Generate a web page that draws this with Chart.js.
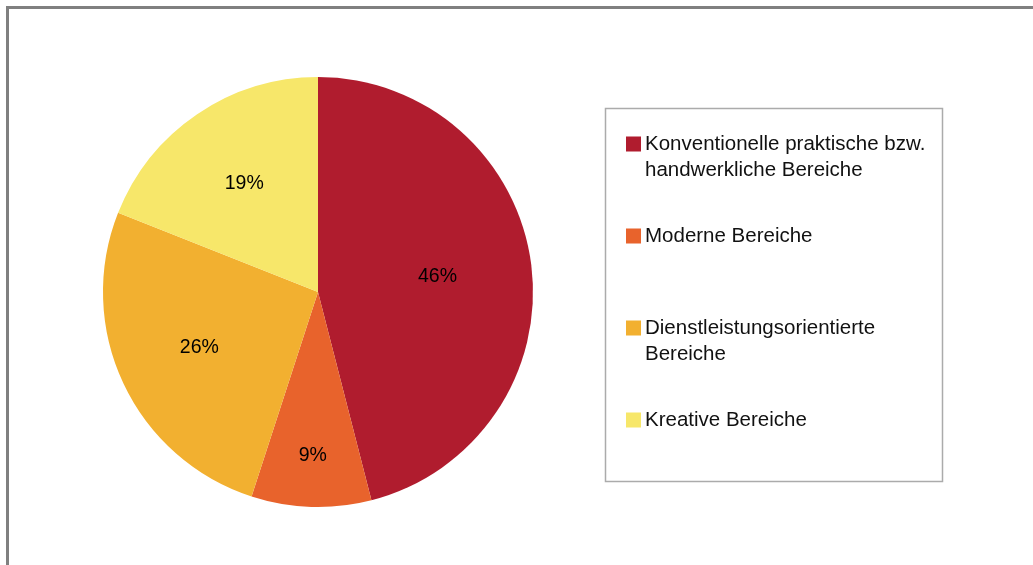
<!DOCTYPE html>
<html>
<head>
<meta charset="utf-8">
<script src="https://cdn.jsdelivr.net/npm/chart.js@4/dist/chart.umd.min.js"></script>
<style>
  html, body { margin: 0; padding: 0; background: #fff; }
  #wrap { position: relative; width: 1033px; height: 565px; overflow: hidden; }
  #frame {
    position: absolute; left: 6px; top: 6px; width: 1100px; height: 600px;
    border-top: 3px solid #808080; border-left: 3px solid #808080;
  }
  canvas { position: absolute; left: 0; top: 0; }
</style>
</head>
<body>
<div id="wrap">
  <div id="frame"></div>
  <canvas id="pieChart" width="1033" height="565"></canvas>
</div>
<script>
"use strict";

const categories = [
  "Konventionelle praktische bzw. handwerkliche Bereiche",
  "Moderne Bereiche",
  "Dienstleistungsorientierte Bereiche",
  "Kreative Bereiche",
];
const shares = [46, 9, 26, 19];
const sliceColors = ["#B01C2E", "#E8632C", "#F2B030", "#F7E76A"];

const FONT = "'Liberation Sans', Arial, sans-serif";

// percentage labels inside the slices
const sliceLabels = {
  id: "sliceLabels",
  afterDatasetsDraw(chart) {
    const ctx = chart.ctx;
    const data = chart.data.datasets[0].data;
    const total = data.reduce((a, b) => a + b, 0);
    const meta = chart.getDatasetMeta(0);
    ctx.save();
    ctx.font = "19.5px " + FONT;
    ctx.fillStyle = "#000";
    ctx.textAlign = "center";
    ctx.textBaseline = "middle";
    meta.data.forEach(function (arc, i) {
      const p = arc.getProps(["x", "y", "startAngle", "endAngle", "outerRadius"], true);
      const mid = (p.startAngle + p.endAngle) / 2;
      const share = data[i] / total;
      const frac = share < 0.1 ? 0.76 : share > 0.4 ? 0.56 : 0.61;
      const r = p.outerRadius * frac;
      const txt = Math.round(share * 100) + "%";
      ctx.fillText(txt, p.x + Math.cos(mid) * r, p.y + Math.sin(mid) * r);
    });
    ctx.restore();
  },
};

// boxed legend on the right
const boxLegend = {
  id: "boxLegend",
  afterDraw(chart) {
    const ctx = chart.ctx;
    const labels = chart.data.labels;
    const colors = chart.data.datasets[0].backgroundColor;
    ctx.save();
    ctx.strokeStyle = "#ABABAB";
    ctx.lineWidth = 1.5;
    ctx.strokeRect(605.5, 108.5, 337, 373);

    ctx.font = "20.5px " + FONT;
    ctx.textBaseline = "middle";
    ctx.textAlign = "left";
    labels.forEach(function (label, i) {
      const y = 144 + i * 92;
      ctx.fillStyle = colors[i];
      ctx.fillRect(626, y - 7.5, 15, 15);
      // wrap text
      const words = label.split(" ");
      const lines = [];
      let line = "";
      words.forEach(function (w) {
        const test = line ? line + " " + w : w;
        if (ctx.measureText(test).width > 292 && line) {
          lines.push(line);
          line = w;
        } else {
          line = test;
        }
      });
      lines.push(line);
      ctx.fillStyle = "#111";
      lines.forEach(function (l, j) {
        ctx.fillText(l, 645, y + j * 26);
      });
    });
    ctx.restore();
  },
};

new Chart(document.getElementById("pieChart").getContext("2d"), {
  type: "pie",
  data: {
    labels: categories,
    datasets: [
      {
        data: shares,
        backgroundColor: sliceColors,
        borderWidth: 0,
      },
    ],
  },
  options: {
    responsive: false,
    animation: false,
    layout: { padding: { left: 103, right: 500, top: 76, bottom: 57 } },
    plugins: {
      legend: { display: false },
      tooltip: { enabled: false },
      title: { display: false },
    },
  },
  plugins: [sliceLabels, boxLegend],
});
</script>
</body>
</html>
